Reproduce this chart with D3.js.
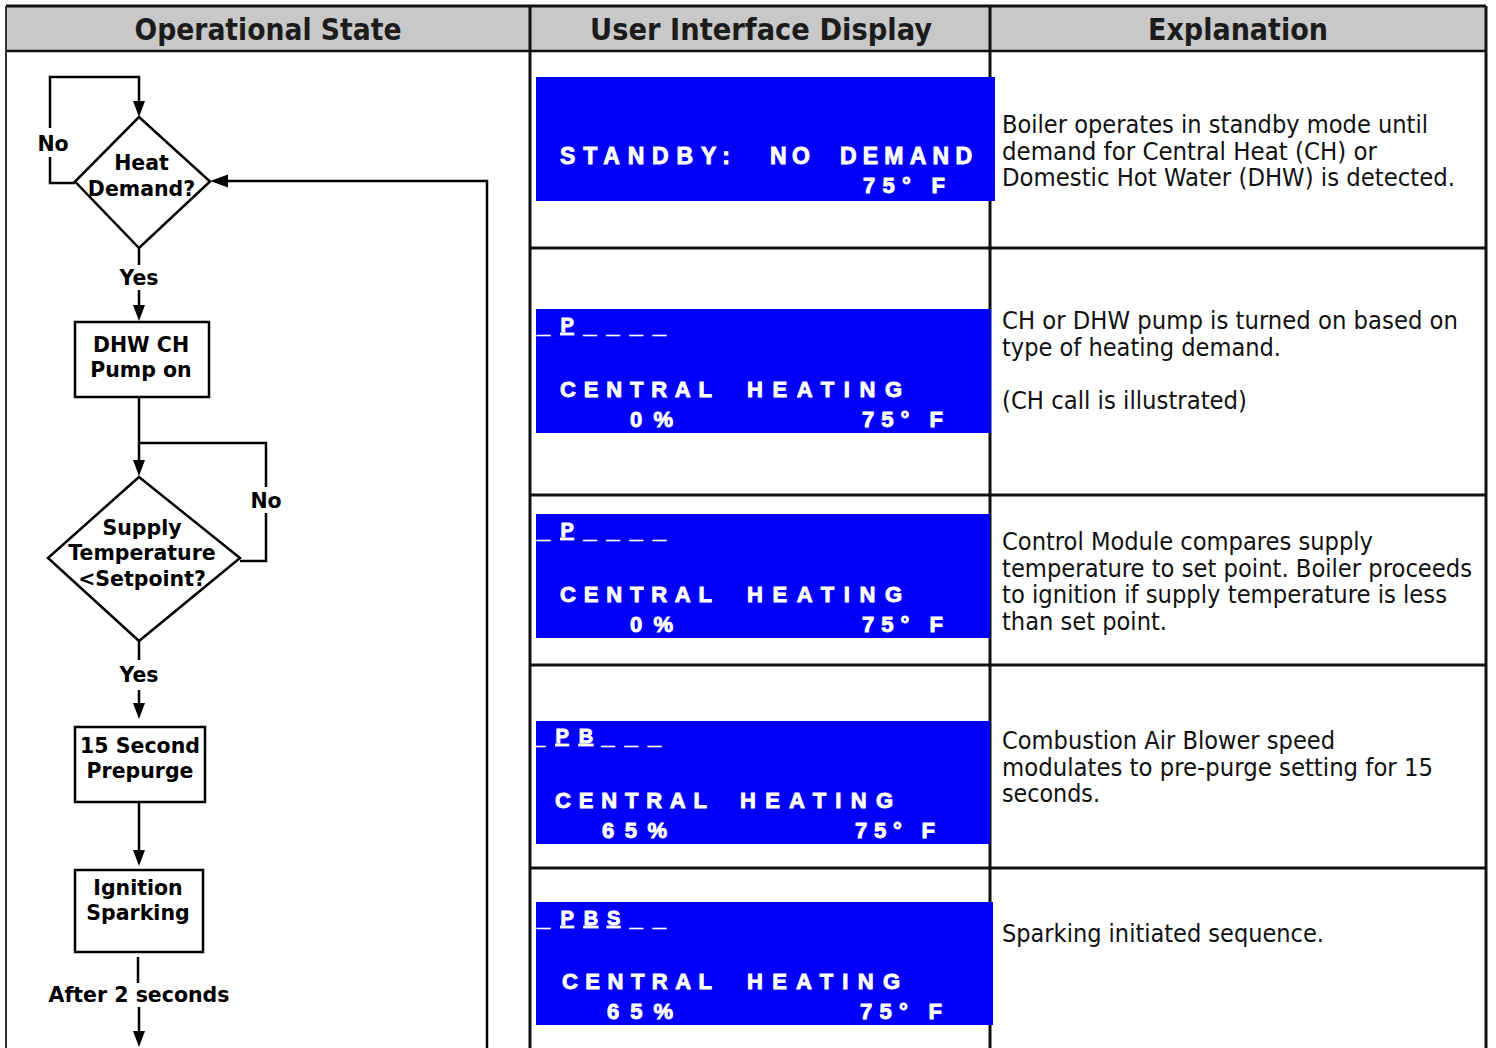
<!DOCTYPE html>
<html><head><meta charset="utf-8">
<script src="https://cdn.jsdelivr.net/npm/d3@7"></script>
<style>html,body{margin:0;padding:0;background:#fff;}svg{display:block}</style>
</head><body>
<script>
// ---------- content ----------
const headers = ["Operational State", "User Interface Display", "Explanation"];

const statusRows = [null, "_P____", "_P____", "_PB___", "_PBS__"];
const modeLines = [["STANDBY:", "NO", "DEMAND"], ["CENTRAL", "HEATING"], ["CENTRAL", "HEATING"], ["CENTRAL", "HEATING"], ["CENTRAL", "HEATING"]];
const modulation = [null, "0%", "0%", "65%", "65%"];
const temperature = ["75° F", "75° F", "75° F", "75° F", "75° F"];

const explanations = [
  ["Boiler operates in standby mode until", "demand for Central Heat (CH) or", "Domestic Hot Water (DHW) is detected."],
  ["CH or DHW pump is turned on based on", "type of heating demand.", "", "(CH call is illustrated)"],
  ["Control Module compares supply", "temperature to set point. Boiler proceeds", "to ignition if supply temperature is less", "than set point."],
  ["Combustion Air Blower speed", "modulates to pre-purge setting for 15", "seconds."],
  ["Sparking initiated sequence."]
];

const flowNodes = [
  {type: "diamond", lines: ["Heat", "Demand?"]},
  {type: "box", lines: ["DHW CH", "Pump on"]},
  {type: "diamond", lines: ["Supply", "Temperature", "<Setpoint?"]},
  {type: "box", lines: ["15 Second", "Prepurge"]},
  {type: "box", lines: ["Ignition", "Sparking"]}
];
const flowLabels = ["No", "Yes", "No", "Yes", "After 2 seconds"];

// ---------- layout (positions only) ----------
const W = 1496, H = 1048;
const T = {left: 6, right: 1486, top: 6, headBottom: 51, cols: [530, 990], rowLines: [248, 495, 665, 868]};
const colCenter = d3.scaleOrdinal().domain(headers).range([268, 761, 1238]);
const colWidth = d3.scaleOrdinal().domain(headers).range([267, 342, 180]);

const dispLayout = [
  {rect: [536, 77, 995, 201], modeY: 164, modeSize: 23, modeSegs: [[560, 170], [770, 40], [840, 132]], botY: 193, mod: null, temp: [863, 82]},
  {rect: [536, 309, 991, 433], statusY: 332, statusX: 537, modeY: 397, modeSize: 22, modeSegs: [[560, 152], [747, 155]], botY: 427, mod: [630, 43], temp: [862, 81]},
  {rect: [536, 514, 990, 638], statusY: 537, statusX: 537, modeY: 602, modeSize: 22, modeSegs: [[560, 152], [747, 155]], botY: 632, mod: [630, 43], temp: [862, 81]},
  {rect: [536, 721, 990, 844], statusY: 743, statusX: 532, modeY: 808, modeSize: 22, modeSegs: [[555, 152], [740, 153]], botY: 838, mod: [602, 65], temp: [855, 80]},
  {rect: [536, 902, 993, 1025], statusY: 925, statusX: 537, modeY: 989, modeSize: 22, modeSegs: [[562, 150], [747, 153]], botY: 1019, mod: [607, 66], temp: [860, 82]}
];
const explLayout = {x: 1002, firstY: [133, 329, 550, 749, 942], lh: 26.6,
  widths: [[426, 375, 453], [456, 279, 0, 245], [371, 470, 445, 165], [333, 431, 98], [322]]};

const svg = d3.select("body").append("svg").attr("width", W).attr("height", H);

// ---------- table ----------
svg.append("rect").attr("x", T.left).attr("y", T.top).attr("width", T.right - T.left).attr("height", T.headBottom - T.top).attr("fill", "#c8c8c8");

svg.append("g").selectAll("text").data(headers).join("text")
  .attr("x", d => colCenter(d)).attr("y", 40)
  .attr("text-anchor", "middle")
  .attr("font-family", "'DejaVu Sans Condensed', 'DejaVu Sans', sans-serif")
  .attr("font-stretch", "condensed")
  .attr("font-weight", "bold").attr("font-size", 30).attr("fill", "#1c1c1c")
  .attr("textLength", d => colWidth(d)).attr("lengthAdjust", "spacingAndGlyphs")
  .text(d => d);

const lines = svg.append("g").attr("stroke", "#111").attr("fill", "none");
lines.append("line").attr("x1", T.left).attr("x2", T.right).attr("y1", T.top).attr("y2", T.top).attr("stroke-width", 3);
lines.append("line").attr("x1", T.left).attr("x2", T.right).attr("y1", T.headBottom).attr("y2", T.headBottom).attr("stroke-width", 2.5);
lines.append("line").attr("x1", T.left).attr("x2", T.left).attr("y1", T.top).attr("y2", H).attr("stroke-width", 2).attr("stroke", "#333");
[...T.cols, T.right].forEach(x => lines.append("line").attr("x1", x).attr("x2", x).attr("y1", T.top).attr("y2", H).attr("stroke-width", 3));
T.rowLines.forEach(y => lines.append("line").attr("x1", T.cols[0]).attr("x2", T.right).attr("y1", y).attr("y2", y).attr("stroke-width", 3));

// ---------- displays ----------
const defs = svg.append("defs");
dispLayout.forEach((L, i) => {
  const [x0, y0, x1, y1] = L.rect;
  defs.append("clipPath").attr("id", "clip" + i).append("rect").attr("x", x0).attr("y", y0).attr("width", x1 - x0).attr("height", y1 - y0);
  const g = svg.append("g").attr("clip-path", `url(#clip${i})`)
    .attr("font-family", "'Liberation Sans', Arial, sans-serif").attr("font-weight", "bold")
    .attr("fill", "#fff").attr("stroke", "#fff").attr("stroke-width", 0.9);
  g.append("rect").attr("x", x0).attr("y", y0).attr("width", x1 - x0).attr("height", y1 - y0).attr("fill", "#0000fa").attr("stroke", "none");
  const seg = (t, x, w, y, size) => g.append("text").attr("x", x).attr("y", y)
    .attr("font-size", size).attr("textLength", w).attr("lengthAdjust", "spacing").text(t);
  if (statusRows[i]) {
    statusRows[i].split("").forEach((c, k) => {
      const x = L.statusX + k * 23.2;
      if (c === "_") {
        g.append("text").attr("x", x).attr("y", L.statusY + 0.5).attr("font-size", 19.5)
          .attr("textLength", 13).attr("lengthAdjust", "spacingAndGlyphs").attr("stroke-width", 0.6).text("_");
      } else {
        g.append("text").attr("x", x + 0.3).attr("y", L.statusY).attr("font-size", 20)
          .style("text-decoration", "underline").text(c);
      }
    });
  }
  modeLines[i].forEach((t, k) => seg(t, L.modeSegs[k][0], L.modeSegs[k][1], L.modeY, L.modeSize));
  if (modulation[i]) seg(modulation[i], L.mod[0], L.mod[1], L.botY, 22);
  seg(temperature[i], L.temp[0], L.temp[1], L.botY, 22);
});

// ---------- explanations ----------
const eg = svg.append("g").attr("font-family", "'DejaVu Sans Condensed', 'DejaVu Sans', sans-serif")
  .attr("font-stretch", "condensed").attr("font-size", 25).attr("fill", "#111");
explanations.forEach((rows, i) => {
  rows.forEach((t, k) => {
    if (!t) return;
    eg.append("text").attr("x", explLayout.x).attr("y", explLayout.firstY[i] + k * explLayout.lh)
      .attr("textLength", explLayout.widths[i][k]).attr("lengthAdjust", "spacingAndGlyphs").text(t);
  });
});

// ---------- flowchart ----------
const fg = svg.append("g");
const stroke = (p) => fg.append("path").attr("d", p).attr("fill", "none").attr("stroke", "#000").attr("stroke-width", 2.5);
const line = d3.line();
const arrowDown = (x, tip) => fg.append("path").attr("d", line([[x - 6, tip - 16], [x + 6, tip - 16], [x, tip]]) + "Z").attr("fill", "#000");
const arrowLeft = (tip, y) => fg.append("path").attr("d", line([[tip + 18, y - 6.5], [tip + 18, y + 6.5], [tip, y]]) + "Z").attr("fill", "#000");

const nodeGeom = [
  {cx: 139, tx: 141.5, top: 117, bottom: 248, left: 75, right: 210, ys: [170, 196]},
  {x0: 75, x1: 209, top: 322, bottom: 397, tx: 141, ys: [352, 377]},
  {cx: 139, tx: 142, top: 477, bottom: 641, left: 48, right: 240, ys: [535, 560, 586]},
  {x0: 75, x1: 205, top: 727, bottom: 802, tx: 140, ys: [753, 778]},
  {x0: 75, x1: 203, top: 870, bottom: 952, tx: 138, ys: [895, 920]}
];

flowNodes.forEach((n, i) => {
  const G = nodeGeom[i];
  if (n.type === "diamond") {
    const my = (G.top + G.bottom) / 2 - 1;
    fg.append("path").attr("d", line([[G.cx, G.top], [G.right, my], [G.cx, G.bottom], [G.left, my]]) + "Z")
      .attr("fill", "#fff").attr("stroke", "#000").attr("stroke-width", 2.5);
  } else {
    fg.append("rect").attr("x", G.x0).attr("y", G.top).attr("width", G.x1 - G.x0).attr("height", G.bottom - G.top)
      .attr("fill", "#fff").attr("stroke", "#000").attr("stroke-width", 2.5);
  }
  n.lines.forEach((t, k) => fg.append("text").attr("x", G.tx).attr("y", G.ys[k]).attr("text-anchor", "middle")
    .attr("font-family", "'DejaVu Sans', Verdana, sans-serif").attr("font-weight", "bold").attr("font-size", 20.5).text(t));
});

// connectors
stroke(line([[75, 183], [50, 183], [50, 157]]));
stroke(line([[50, 128], [50, 77], [139, 77], [139, 104]]));
arrowDown(139, 117);
stroke(line([[487, H], [487, 181], [222, 181]]));
arrowLeft(210, 181);
stroke(line([[139, 248], [139, 265]]));
stroke(line([[139, 290], [139, 308]]));
arrowDown(139, 321);
stroke(line([[139, 397], [139, 463]]));
arrowDown(139, 476);
stroke(line([[240, 561], [266, 561], [266, 513]]));
stroke(line([[266, 487], [266, 443], [139, 443]]));
stroke(line([[139, 641], [139, 660]]));
stroke(line([[139, 690], [139, 706]]));
arrowDown(139, 719);
stroke(line([[139, 802], [139, 853]]));
arrowDown(139, 866);
stroke(line([[138, 957], [138, 983]]));
stroke(line([[139, 1007], [139, 1034]]));
arrowDown(139, 1047);

const labelPos = [[53, 151], [139, 285], [266, 508], [139, 682], [139, 1002]];
fg.selectAll("text.lbl").data(flowLabels).join("text").attr("class", "lbl")
  .attr("x", (d, i) => labelPos[i][0]).attr("y", (d, i) => labelPos[i][1])
  .attr("text-anchor", "middle").attr("font-family", "'DejaVu Sans', Verdana, sans-serif")
  .attr("font-weight", "bold").attr("font-size", 20.5).text(d => d);
</script>
</body></html>
